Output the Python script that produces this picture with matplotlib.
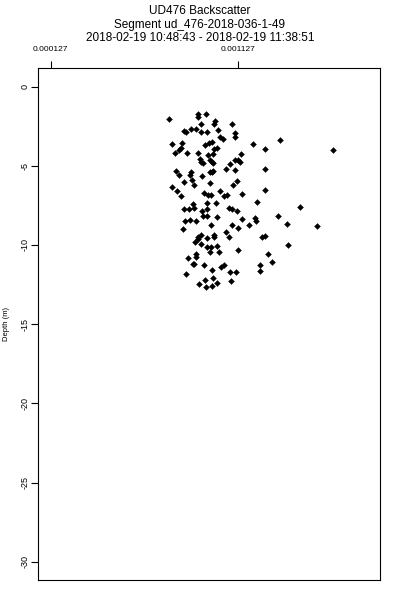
import matplotlib.pyplot as plt
import numpy as np

plt.rcParams['font.family'] = ['Liberation Sans', 'DejaVu Sans']
plt.rcParams['axes.unicode_minus'] = False

# backscatter (x 1e-3) and depth (m)
backscatter = np.array([
    0.759, 0.914, 0.914, 0.958, 1.008, 1.001, 0.930, 1.100, 0.841, 0.851,
    0.876, 0.904, 0.933, 0.962, 1.021, 1.115, 1.111, 1.034, 1.048, 0.774,
    0.831, 0.822, 0.815, 0.793, 0.854, 0.953, 0.976, 0.989, 1.003, 1.016,
    0.914, 0.998, 1.212, 1.273, 1.352, 1.639, 1.147, 1.132, 1.115, 1.138,
    0.926, 0.930, 0.944, 0.980, 0.989, 0.994, 0.971, 1.086, 1.066, 1.111,
    1.272, 0.800, 0.876, 0.872, 0.813, 0.935, 0.980, 0.992, 0.998, 0.841,
    0.885, 0.980, 1.125, 1.104, 0.775, 0.804, 0.895, 0.825, 0.949, 0.971,
    0.985, 1.034, 1.055, 1.072, 1.149, 1.273, 1.232, 1.463, 0.964, 1.014,
    0.890, 0.895, 0.841, 0.868, 0.937, 0.964, 1.079, 1.097, 1.125, 0.944,
    0.962, 1.018, 1.346, 0.844, 0.872, 0.903, 1.151, 1.221, 1.228, 0.985,
    1.100, 1.188, 1.391, 1.551, 0.834, 1.129, 1.068, 0.915, 0.931, 0.914,
    0.901, 0.962, 1.000, 1.001, 1.081, 1.256, 1.272, 0.930, 0.965, 0.985,
    1.016, 0.980, 1.030, 1.131, 1.400, 0.903, 0.906, 0.860, 1.289, 1.310,
    0.887, 0.895, 0.949, 1.038, 1.052, 0.989, 1.249, 1.248, 0.852, 1.086,
    1.118, 0.951, 0.998, 0.922, 0.960, 0.989, 1.016, 1.091,
]) * 1e-3

depth = np.array([
    -2.05, -1.74, -1.91, -1.74, -2.16, -2.37, -2.37, -2.37, -2.79, -2.85,
    -2.68, -2.66, -2.89, -2.87, -2.74, -2.95, -3.21, -3.17, -3.29, -3.65,
    -3.58, -3.86, -4.03, -4.21, -4.18, -3.69, -3.55, -3.52, -3.96, -3.90,
    -4.20, -4.26, -3.65, -3.94, -3.39, -4.01, -4.26, -4.64, -4.66, -4.78,
    -4.59, -4.76, -4.85, -4.64, -4.76, -4.85, -4.32, -4.89, -5.22, -5.27,
    -5.22, -5.31, -5.39, -5.60, -5.60, -5.65, -5.38, -5.38, -5.31, -6.01,
    -5.90, -6.07, -5.96, -6.23, -6.36, -6.57, -6.23, -6.89, -6.74, -6.86,
    -6.85, -6.61, -6.89, -6.86, -6.76, -6.53, -7.29, -7.58, -7.33, -7.37,
    -7.41, -7.68, -7.75, -7.71, -7.84, -7.73, -7.68, -7.75, -7.84, -8.15,
    -8.17, -8.25, -8.15, -8.50, -8.42, -8.49, -8.38, -8.32, -8.47, -8.72,
    -8.72, -8.72, -8.68, -8.82, -8.99, -8.93, -9.16, -9.48, -9.39, -9.64,
    -9.79, -9.56, -9.37, -9.51, -9.51, -9.50, -9.43, -9.94, -10.11, -10.11,
    -10.06, -10.42, -10.42, -10.30, -10.02, -10.57, -10.74, -10.80, -10.59, -11.07,
    -11.22, -11.22, -11.24, -11.41, -11.26, -11.60, -11.28, -11.64, -11.83, -11.72,
    -11.68, -12.21, -12.10, -12.48, -12.63, -12.61, -12.42, -12.27,
])

x_ticks = [0.000127, 0.001127]
x_tick_labels = ['0.000127', '0.001127']
y_ticks = [0, -5, -10, -15, -20, -25, -30]

title = ('UD476 Backscatter\n'
         'Segment ud_476-2018-036-1-49\n'
         '2018-02-19 10:48:43 - 2018-02-19 11:38:51')

fig = plt.figure(figsize=(4, 6), dpi=100)
ax = fig.add_axes([0.095, 0.0333, 0.855, 0.8534])

ax.plot(backscatter, depth, linestyle='none', marker='D', markersize=3.0,
        color='black', markeredgewidth=0.3)

ax.set_xlim(0.0000586, 0.00189)
ax.set_ylim(-31.15, 1.17)

ax.xaxis.tick_top()
ax.set_xticks(x_ticks)
ax.set_xticklabels(x_tick_labels, fontsize=6)
ax.set_yticks(y_ticks)
ax.set_yticklabels([str(v) for v in y_ticks], fontsize=6.5, rotation=90, va='center')
ax.tick_params(axis='x', direction='out', length=5, width=0.8, pad=6)
ax.tick_params(axis='y', direction='out', length=5, width=0.8, pad=1)

for s in ax.spines.values():
    s.set_linewidth(0.8)

fig.text(0.015, 0.46, 'Depth (m)', rotation=90, ha='center', va='center', fontsize=5.5)
fig.text(0.5, 0.992, title, ha='center', va='top', fontsize=8.5, linespacing=1.2)

fig.savefig('out.png', dpi=100)
